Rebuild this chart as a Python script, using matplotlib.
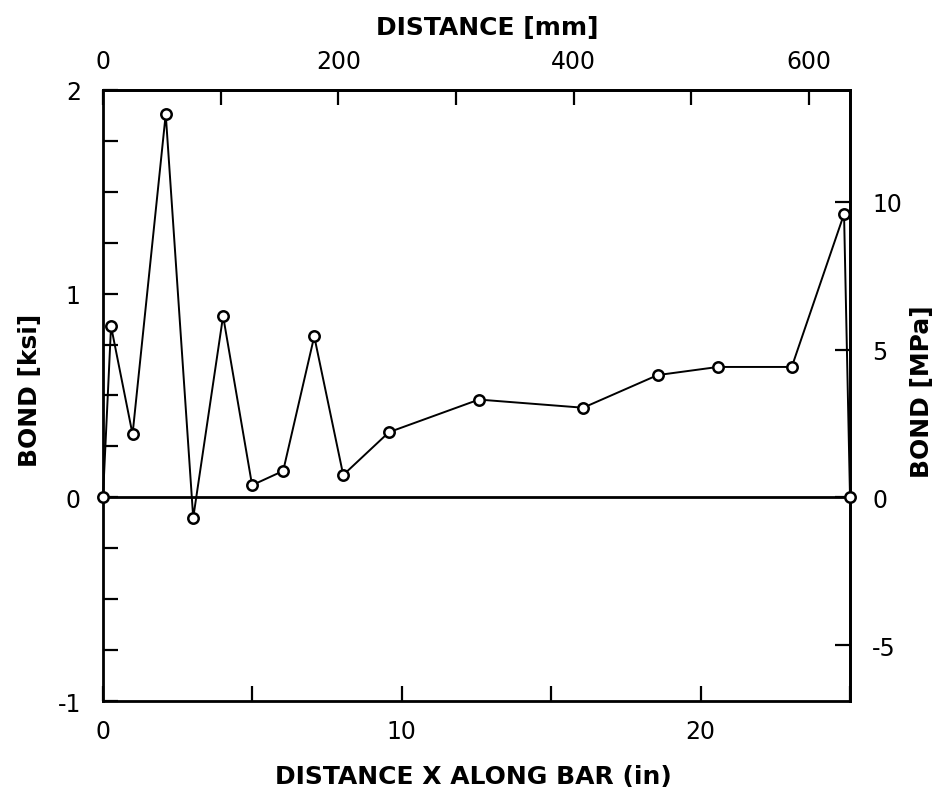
import matplotlib
matplotlib.use("Agg")
import matplotlib.pyplot as plt
from matplotlib.ticker import MultipleLocator, FixedLocator

# Data (distance in inches, bond stress in ksi)
distance_in = [0, 0.27, 0.99, 2.1, 3.02, 4.02, 4.99, 6.03, 7.07, 8.04, 9.57,
               12.58, 16.07, 18.56, 20.58, 23.05, 24.8, 25.0]
bond_ksi = [0, 0.84, 0.31, 1.88, -0.10, 0.89, 0.06, 0.13, 0.79, 0.11, 0.32,
            0.48, 0.44, 0.60, 0.64, 0.64, 1.39, 0]

bottom_ticks = [0, 10, 20]
top_ticks_mm = [0, 200, 400, 600]
left_ticks = [-1, 0, 1, 2]
right_ticks_mpa = [-5, 0, 5, 10]

IN_TO_MM = 25.4
KSI_TO_MPA = 6.895

plt.rcParams['font.family'] = ['DejaVu Sans']
plt.rcParams['axes.unicode_minus'] = False

fig = plt.figure(figsize=(9.43, 8.04), dpi=100)
ax = fig.add_axes([0.1092, 0.1265, 0.7922, 0.7607])

ax.axhline(0, color='black', lw=2.0, zorder=1)
ax.plot(distance_in, bond_ksi, color='black', lw=1.4, marker='o', ms=7.5,
        mfc='white', mec='black', mew=1.8, zorder=3, clip_on=False)

ax.set_xlim(0, 25)
ax.set_ylim(-1, 2)

for s in ax.spines.values():
    s.set_linewidth(2.0)

ax.xaxis.set_major_locator(FixedLocator(bottom_ticks))
ax.xaxis.set_minor_locator(MultipleLocator(5))
ax.yaxis.set_major_locator(FixedLocator(left_ticks))
ax.yaxis.set_minor_locator(MultipleLocator(0.25))
ax.tick_params(axis='both', which='both', direction='in', length=11, width=1.6,
               labelsize=17, pad=13)
ax.tick_params(axis='y', pad=16)

# top secondary axis in mm
top = ax.secondary_xaxis('top', functions=(lambda x: x * IN_TO_MM,
                                           lambda x: x / IN_TO_MM))
top.xaxis.set_major_locator(FixedLocator(top_ticks_mm))
top.xaxis.set_minor_locator(MultipleLocator(100))
top.tick_params(axis='x', which='both', direction='in', length=11, width=1.6,
                labelsize=17, pad=12)
top.spines['top'].set_linewidth(2.0)

# right secondary axis in MPa
right = ax.secondary_yaxis('right', functions=(lambda y: y * KSI_TO_MPA,
                                               lambda y: y / KSI_TO_MPA))
right.yaxis.set_major_locator(FixedLocator(right_ticks_mpa))
right.tick_params(axis='y', which='both', direction='in', length=11, width=1.6,
                  labelsize=17, pad=16)
right.spines['right'].set_linewidth(2.0)

# axis titles
lab = dict(fontsize=18, fontweight='bold', ha='center', va='center')
fig.text(473 / 943, 1 - 777 / 804, 'DISTANCE X ALONG BAR (in)', **lab)
fig.text(487 / 943, 1 - 28 / 804, 'DISTANCE [mm]', **lab)
fig.text(30 / 943, 1 - 390 / 804, 'BOND [ksi]', rotation=90, **lab)
fig.text(922 / 943, 1 - 392 / 804, 'BOND [MPa]', rotation=90, **lab)

fig.savefig('out.png', dpi=100, facecolor='white')
